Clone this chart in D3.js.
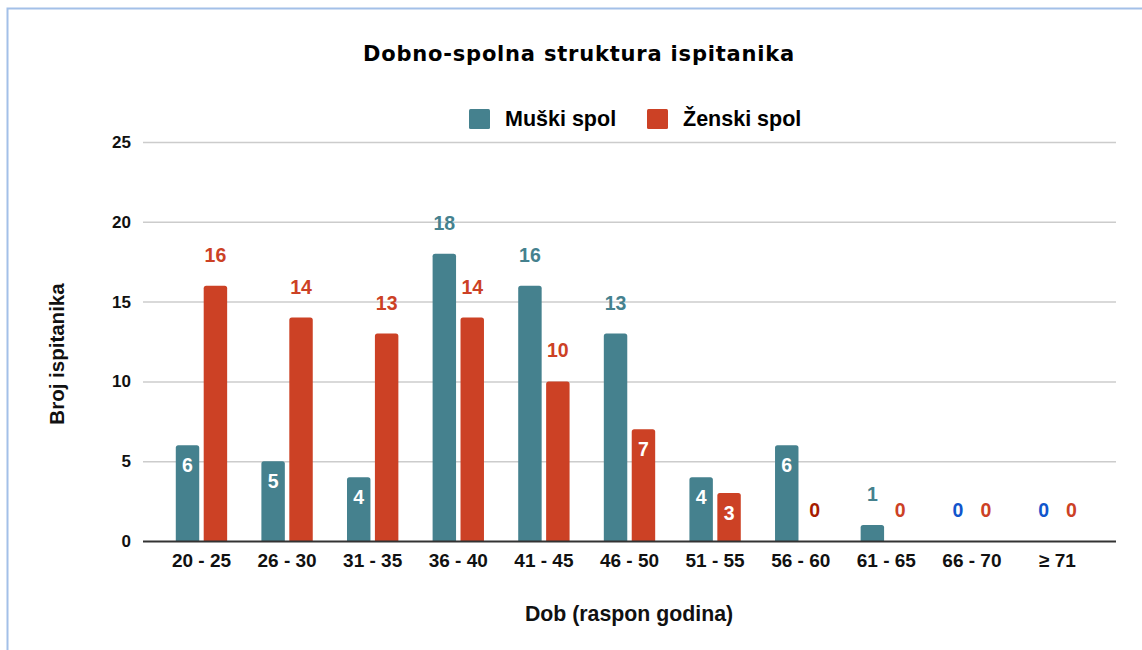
<!DOCTYPE html>
<html lang="hr">
  <head>
    <meta charset="UTF-8" />
    <title>Dobno-spolna struktura ispitanika</title>
    <script src="https://cdn.jsdelivr.net/npm/d3@7"></script>
    <style>
      body { margin: 0; background: #fff; }
      text { font-family: "Liberation Sans", Arial, sans-serif; font-weight: bold; }
    </style>
  </head>
  <body>
    <svg id="chart" width="1142" height="650"></svg>
    <script>
      // data
      const ageGroups = ["20 - 25", "26 - 30", "31 - 35", "36 - 40", "41 - 45", "46 - 50",
                         "51 - 55", "56 - 60", "61 - 65", "66 - 70", "≥ 71"];
      const male = [6, 5, 4, 18, 16, 13, 4, 6, 1, 0, 0];
      const female = [16, 14, 13, 14, 10, 7, 3, 0, 0, 0, 0];
      const yTicks = [0, 5, 10, 15, 20, 25];
      const seriesNames = ["Muški spol", "Ženski spol"];

      const colors = { m: "#45818e", f: "#cc4125" };

      const svg = d3.select("#chart");

      // frame
      svg.append("rect")
        .attr("x", 7.5).attr("y", 8.5)
        .attr("width", 1160).attr("height", 680)
        .attr("fill", "none")
        .attr("stroke", "#a3c0e8")
        .attr("stroke-width", 2);

      const plotL = 143, plotR = 1116, plotT = 142, plotB = 541;

      const x = d3.scaleBand()
        .domain(ageGroups)
        .range([plotL, plotR])
        .paddingInner(0.4)
        .paddingOuter(0.383);

      const xs = d3.scaleBand()
        .domain(["m", "f"])
        .range([0, x.bandwidth()])
        .paddingInner(0.16);

      const y = d3.scaleLinear().domain([0, 25]).range([plotB, plotT]);

      // gridlines
      svg.append("g")
        .selectAll("line")
        .data(yTicks.filter(d => d > 0))
        .join("line")
        .attr("x1", plotL).attr("x2", plotR)
        .attr("y1", d => y(d) + 0.5).attr("y2", d => y(d) + 0.5)
        .attr("stroke", "#cccccc")
        .attr("stroke-width", 1.5);

      // y labels
      svg.append("g")
        .selectAll("text")
        .data(yTicks)
        .join("text")
        .attr("x", 131)
        .attr("y", d => y(d) + 6)
        .attr("text-anchor", "end")
        .attr("font-size", 17)
        .attr("fill", "#111")
        .text(d => d);

      // bars
      const rows = [];
      ageGroups.forEach((g, i) => {
        rows.push({ g, s: "m", v: male[i] });
        rows.push({ g, s: "f", v: female[i] });
      });

      function barPath(d) {
        const x0 = x(d.g) + xs(d.s), w = xs.bandwidth();
        const y0 = y(d.v), r = Math.min(2.5, (plotB - y0) / 2);
        return `M${x0},${plotB}V${y0 + r}Q${x0},${y0} ${x0 + r},${y0}` +
               `H${x0 + w - r}Q${x0 + w},${y0} ${x0 + w},${y0 + r}V${plotB}Z`;
      }

      svg.append("g")
        .selectAll("path")
        .data(rows.filter(d => d.v > 0))
        .join("path")
        .attr("d", barPath)
        .attr("fill", d => colors[d.s]);

      // axis line
      svg.append("line")
        .attr("x1", plotL).attr("x2", plotR)
        .attr("y1", plotB + 0.5).attr("y2", plotB + 0.5)
        .attr("stroke", "#333")
        .attr("stroke-width", 2);

      // data labels
      const inside = v => v >= 3 && v <= 7;
      function labelColor(d) {
        if (inside(d.v)) return "#fff";
        if (d.v === 0 && d.s === "m") return "#1155cc";
        if (d.v === 0 && d.g === "56 - 60") return "#a61c00";
        return colors[d.s];
      }
      svg.append("g")
        .selectAll("text")
        .data(rows)
        .join("text")
        .attr("x", d => x(d.g) + xs(d.s) + xs.bandwidth() / 2)
        .attr("y", d => inside(d.v) ? y(d.v) + 27 : y(d.v) - 24)
        .attr("text-anchor", "middle")
        .attr("font-size", 19.5)
        .attr("fill", labelColor)
        .text(d => d.v);

      // x labels
      svg.append("g")
        .selectAll("text")
        .data(ageGroups)
        .join("text")
        .attr("x", d => x(d) + x.bandwidth() / 2)
        .attr("y", 567)
        .attr("text-anchor", "middle")
        .attr("font-size", 19)
        .attr("fill", "#111")
        .text(d => d);

      // title
      svg.append("text")
        .attr("x", 579).attr("y", 61)
        .attr("text-anchor", "middle")
        .attr("font-size", 21)
        .attr("letter-spacing", 0.8)
        .style("font-family", "'DejaVu Sans', Verdana, sans-serif")
        .attr("fill", "#000")
        .text("Dobno-spolna struktura ispitanika");

      // legend
      const legend = svg.append("g");
      const legX = [469, 647];
      seriesNames.forEach((name, i) => {
        legend.append("rect")
          .attr("x", legX[i]).attr("y", 109)
          .attr("width", 21).attr("height", 20)
          .attr("rx", 1.5)
          .attr("fill", colors[i === 0 ? "m" : "f"]);
        legend.append("text")
          .attr("x", legX[i] + 36).attr("y", 126)
          .attr("font-size", 21.5)
          .attr("fill", "#000")
          .text(name);
      });

      // axis titles
      svg.append("text")
        .attr("x", 629).attr("y", 621)
        .attr("text-anchor", "middle")
        .attr("font-size", 21.3)
        .attr("fill", "#111")
        .text("Dob (raspon godina)");

      svg.append("text")
        .attr("transform", "translate(64,354) rotate(-90)")
        .attr("text-anchor", "middle")
        .attr("font-size", 20.5)
        .attr("fill", "#111")
        .text("Broj ispitanika");
    </script>
  </body>
</html>
